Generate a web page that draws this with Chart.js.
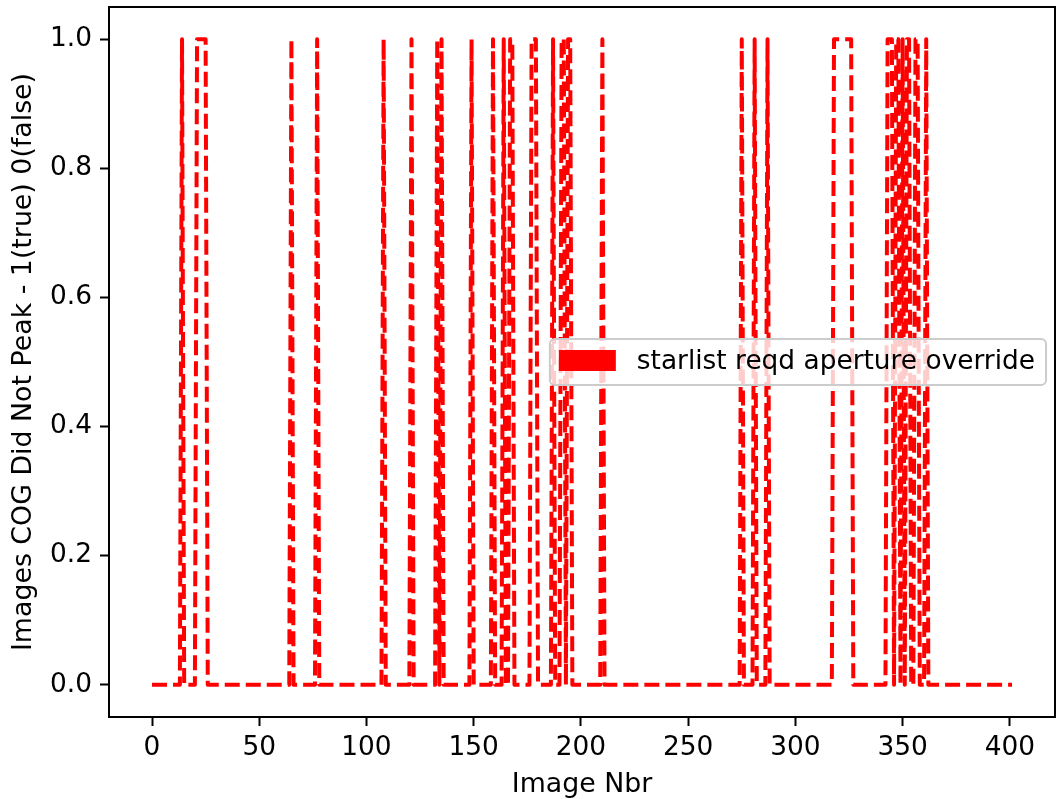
<!DOCTYPE html>
<html>
<head>
<meta charset="utf-8">
<script src="https://cdn.jsdelivr.net/npm/chart.js@4.4.1/dist/chart.umd.min.js"></script>
<style>
  html, body { margin: 0; padding: 0; background: #fff; }
  #wrap { width: 1056px; height: 799px; }
</style>
</head>
<body>
<div id="wrap"><canvas id="chart" width="1056" height="799"></canvas></div>
<script>
// image numbers run 0..401, value is 1 where COG did not peak
const imageCount = 402;
const flaggedImages = [
  14, 21, 22, 23, 24, 25, 65, 77, 108, 121, 133, 135, 149, 159, 164, 167, 168,
  177, 178, 179, 187, 191, 192, 194, 195, 210, 275, 281, 287,
  318, 319, 320, 321, 322, 323, 324, 325, 326,
  343, 344, 345, 347, 348, 350, 352, 353, 356, 357, 361
];
const xTicks = [0, 50, 100, 150, 200, 250, 300, 350, 400];
const yTicks = [0, 0.2, 0.4, 0.6, 0.8, 1.0];
const seriesLabel = "starlist reqd aperture override";

const FONT = { family: "'DejaVu Sans', sans-serif", size: 26.4 };
const TITLE_FONT = { family: "'DejaVu Sans', sans-serif", size: 26.8 };

const points = [];
for (let i = 0; i < imageCount; i++) {
  points.push({ x: i, y: flaggedImages.includes(i) ? 1 : 0 });
}

// top/right spines like matplotlib's box
const framePlugin = {
  id: "frame",
  afterDraw(chart) {
    const { ctx, chartArea: a } = chart;
    ctx.save();
    ctx.strokeStyle = "#000";
    ctx.lineWidth = 2;
    ctx.strokeRect(a.left, a.top, a.right - a.left, a.bottom - a.top);
    ctx.restore();
  }
};

// legend box sitting inside the plot, patch style handle
const boxLegend = {
  id: "boxLegend",
  afterDatasetsDraw(chart) {
    const { ctx, chartArea: a } = chart;
    const ds = chart.data.datasets[0];
    ctx.save();
    ctx.font = FONT.size + "px " + FONT.family;
    const textW = ctx.measureText(ds.label).width;
    const x = a.left + 0.466 * (a.right - a.left);
    const y = a.top + 0.4676 * (a.bottom - a.top);
    const w = 9 + 57 + 21 + textW + 11;
    const h = 46;
    const r = 5;

    ctx.beginPath();
    ctx.moveTo(x + r, y);
    ctx.lineTo(x + w - r, y);
    ctx.arcTo(x + w, y, x + w, y + r, r);
    ctx.lineTo(x + w, y + h - r);
    ctx.arcTo(x + w, y + h, x + w - r, y + h, r);
    ctx.lineTo(x + r, y + h);
    ctx.arcTo(x, y + h, x, y + h - r, r);
    ctx.lineTo(x, y + r);
    ctx.arcTo(x, y, x + r, y, r);
    ctx.closePath();
    ctx.fillStyle = "rgba(255,255,255,0.8)";
    ctx.fill();
    ctx.strokeStyle = "#cccccc";
    ctx.lineWidth = 2;
    ctx.stroke();

    ctx.fillStyle = ds.borderColor;
    ctx.fillRect(x + 9, y + 11, 57, 21);

    ctx.fillStyle = "#000";
    ctx.textBaseline = "alphabetic";
    ctx.textAlign = "left";
    ctx.fillText(ds.label, x + 87, y + 30.5);
    ctx.restore();
  }
};

const ctx = document.getElementById("chart").getContext("2d");

new Chart(ctx, {
  type: "line",
  data: {
    datasets: [
      {
        label: seriesLabel,
        data: points,
        borderColor: "#ff0000",
        backgroundColor: "#ff0000",
        borderWidth: 4,
        borderDash: [15, 6],
        borderJoinStyle: "round",
        pointRadius: 0,
        tension: 0,
        fill: false,
      },
    ],
  },
  options: {
    responsive: false,
    animation: false,
    layout: { padding: { top: 7, right: 1, left: 0, bottom: 0 } },
    plugins: {
      legend: { display: false },
      tooltip: { enabled: false },
    },
    scales: {
      x: {
        type: "linear",
        min: -20.05,
        max: 421.05,
        afterBuildTicks: (s) => { s.ticks = xTicks.map((v) => ({ value: v })); },
        afterFit: (s) => {
          s.height = 82;
          s.paddingLeft = 0;
          s.paddingRight = 0;
        },
        border: { display: false },
        grid: { drawOnChartArea: false, drawTicks: true, tickLength: 9, tickWidth: 2, tickColor: "#000" },
        ticks: { color: "#000", font: FONT, padding: 6, maxRotation: 0, autoSkip: false },
        title: {
          display: true,
          text: "Image Nbr",
          color: "#000",
          font: TITLE_FONT,
          padding: { top: 0, bottom: -2 },
        },
      },
      y: {
        type: "linear",
        min: -0.05,
        max: 1.05,
        afterBuildTicks: (s) => { s.ticks = yTicks.map((v) => ({ value: v })); },
        afterFit: (s) => {
          s.width = 109;
          s.paddingTop = 0;
          s.paddingBottom = 0;
        },
        border: { display: false },
        grid: { drawOnChartArea: false, drawTicks: true, tickLength: 9, tickWidth: 2, tickColor: "#000" },
        ticks: {
          color: "#000",
          font: FONT,
          padding: 8,
          callback: (v) => Number(v).toFixed(1),
        },
        title: {
          display: true,
          text: "Images COG Did Not Peak - 1(true) 0(false)",
          color: "#000",
          font: TITLE_FONT,
          padding: { top: 8, bottom: 0 },
        },
      },
    },
  },
  plugins: [framePlugin, boxLegend],
});
</script>
</body>
</html>
